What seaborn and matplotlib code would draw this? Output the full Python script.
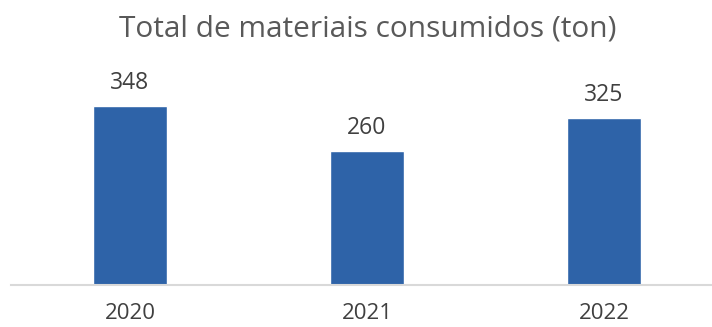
import pandas as pd
import seaborn as sns
import matplotlib.pyplot as plt

years = ["2020", "2021", "2022"]
values = [348, 260, 325]

def main():
  sns.set_style("white")
  plt.rcParams['font.family'] = ['Open Sans', 'DejaVu Sans']
  fig = plt.figure(figsize=(7.12, 3.27), dpi=100)
  ax = fig.add_axes([0.0155, 0.1284, 0.9845, 0.629])
  df = pd.DataFrame({'Ano': years, 'Valor': values})

  sns.barplot(x='Ano', y='Valor', data=df, color='#2E63A8',
              saturation=1, width=0.31, ax=ax)

  ax.set_xlim(-0.502, 2.456)
  ax.set_ylim(0, 400)

  for p, v in zip(ax.patches, values):
    ax.annotate(str(v), (p.get_x() + p.get_width() / 2, v),
                xytext=(0, 8), textcoords='offset points',
                ha='center', va='bottom', fontsize=16.5, color='#404040')

  for s in ['top', 'right', 'left']:
    ax.spines[s].set_visible(False)
  ax.spines['bottom'].set_color('#D9D9D9')
  ax.spines['bottom'].set_linewidth(1.5)
  ax.set_yticks([])
  ax.set_xlabel('')
  ax.set_ylabel('')
  ax.tick_params(axis='x', length=0, pad=13, labelsize=16, labelcolor='#404040')

  fig.text(0.516, 0.91, "Total de materiais consumidos (ton)", ha='center',
           va='center', fontsize=21.5, color='#595959')

  plt.savefig("out.png")

if __name__ == "__main__":
  main()
